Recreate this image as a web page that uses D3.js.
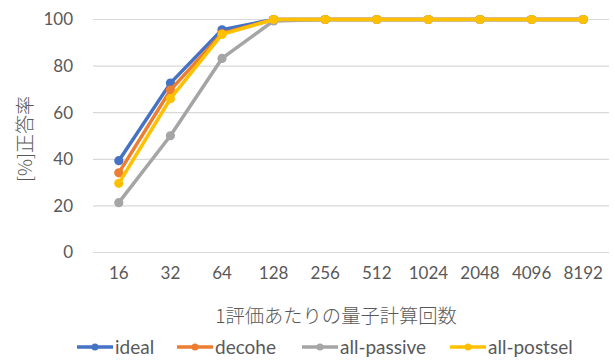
<!DOCTYPE html>
<html>
<head>
<meta charset="utf-8">
<script src="https://cdn.jsdelivr.net/npm/d3@7"></script>
<style>
  html, body { margin: 0; padding: 0; background: #fff; }
  svg { display: block; }
  text { font-family: Lato, "Noto Sans CJK JP", sans-serif; fill: #595959; }
  .axis-title { font-family: "Noto Sans CJK JP", sans-serif; font-weight: 300; }
</style>
</head>
<body>
<svg id="chart" width="615" height="361"></svg>
<script>
// Shots per evaluation (x categories)
const categories = ["16", "32", "64", "128", "256", "512", "1024", "2048", "4096", "8192"];
// Accuracy [%] for each setting
const ideal      = [39.4, 72.7, 95.6, 100, 100, 100, 100, 100, 100, 100];
const decohe     = [34.2, 69.7, 94.0, 100, 100, 100, 100, 100, 100, 100];
const allPassive = [21.4, 50.1, 83.3, 99.4, 100, 100, 100, 100, 100, 100];
const allPostsel = [29.7, 66.0, 93.6, 100, 100, 100, 100, 100, 100, 100];
const yTicks = [0, 20, 40, 60, 80, 100];

const series = [
  { name: "ideal",       values: ideal,      color: "#4472C4" },
  { name: "decohe",      values: decohe,     color: "#ED7D31" },
  { name: "all-passive", values: allPassive, color: "#A5A5A5" },
  { name: "all-postsel", values: allPostsel, color: "#FFC000" }
];

const svg = d3.select("#chart");
const plot = { left: 93, right: 609, top: 19.5, bottom: 252.5 };

const x = d3.scaleBand().domain(categories).range([plot.left, plot.right]);
const y = d3.scaleLinear().domain([0, 100]).range([plot.bottom, plot.top]);

// Horizontal gridlines
svg.append("g").selectAll("line").data(yTicks).join("line")
  .attr("x1", plot.left).attr("x2", plot.right)
  .attr("y1", d => y(d)).attr("y2", d => y(d))
  .attr("stroke", "#d9d9d9").attr("stroke-width", 1.2);

// Y axis labels
const yAxis = svg.append("g").attr("transform", "translate(73,0)")
  .call(d3.axisLeft(y).tickValues(yTicks).tickSize(0).tickPadding(0));
yAxis.select(".domain").remove();
yAxis.selectAll("text").attr("font-size", 17).attr("fill", "#595959")
  .style("font-family", "Lato, sans-serif");

// X axis labels
const xAxis = svg.append("g").attr("transform", "translate(0,267)")
  .call(d3.axisBottom(x).tickSize(0).tickPadding(0));
xAxis.select(".domain").remove();
xAxis.selectAll("text").attr("font-size", 17).attr("fill", "#595959")
  .style("font-family", "Lato, sans-serif");

// Axis titles
svg.append("text").attr("class", "axis-title")
  .attr("x", 336).attr("y", 323)
  .attr("text-anchor", "middle").attr("font-size", 19.3)
  .text("1評価あたりの量子計算回数");

svg.append("text").attr("class", "axis-title")
  .attr("transform", "translate(32,139) rotate(-90)")
  .attr("text-anchor", "middle").attr("font-size", 19)
  .text("[%]正答率");

// Lines and markers
const line = d3.line()
  .x((d, i) => x(categories[i]) + x.bandwidth() / 2)
  .y(d => y(d));

series.forEach(s => {
  const g = svg.append("g");
  g.append("path").datum(s.values)
    .attr("d", line).attr("fill", "none")
    .attr("stroke", s.color).attr("stroke-width", 3.5)
    .attr("stroke-linejoin", "round").attr("stroke-linecap", "round");
  g.selectAll("circle").data(s.values).join("circle")
    .attr("cx", (d, i) => x(categories[i]) + x.bandwidth() / 2)
    .attr("cy", d => y(d))
    .attr("r", 4.6).attr("fill", s.color);
});

// Legend
const legendItems = [
  { s: series[0], x0: 77 },
  { s: series[1], x0: 177 },
  { s: series[2], x0: 302 },
  { s: series[3], x0: 450 }
];
const ly = 347;
legendItems.forEach(({ s, x0 }) => {
  const g = svg.append("g");
  g.append("line").attr("x1", x0).attr("x2", x0 + 36)
    .attr("y1", ly).attr("y2", ly)
    .attr("stroke", s.color).attr("stroke-width", 3.5);
  g.append("circle").attr("cx", x0 + 18).attr("cy", ly).attr("r", 3.5).attr("fill", s.color);
  g.append("text").attr("x", x0 + 38).attr("y", ly).attr("dy", "0.35em")
    .attr("font-size", 19).text(s.name);
});
</script>
</body>
</html>
